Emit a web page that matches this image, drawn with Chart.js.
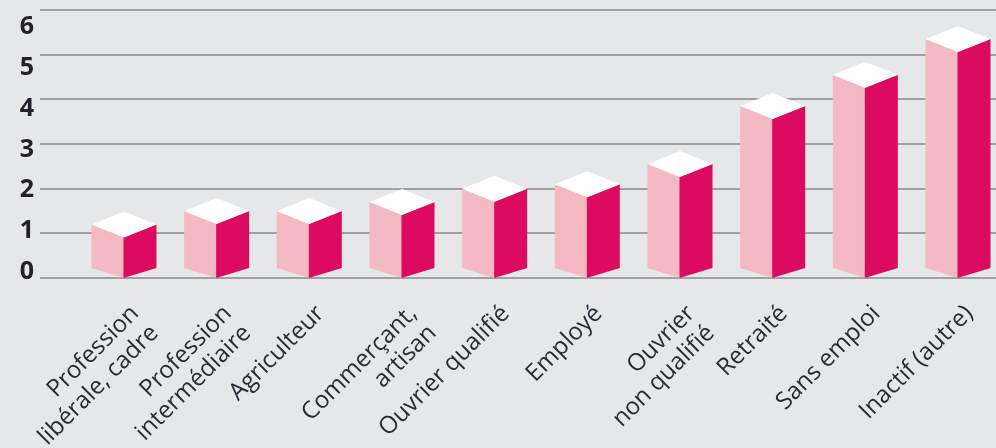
<!DOCTYPE html>
<html lang="fr">
<head>
<meta charset="utf-8">
<title>Catégories socioprofessionnelles</title>
<script src="https://cdn.jsdelivr.net/npm/chart.js@4.4.1/dist/chart.umd.min.js"></script>
<style>
  html, body { margin: 0; padding: 0; background: #e6e7e9; }
  #wrap { width: 996px; height: 448px; }
</style>
</head>
<body>
<div id="wrap"><canvas id="chart" width="996" height="448"></canvas></div>
<script>
const categories = [
  ["Profession", "libérale, cadre"],
  ["Profession", "intermédiaire"],
  "Agriculteur",
  ["Commerçant,", "artisan"],
  "Ouvrier qualifié",
  "Employé",
  ["Ouvrier", "non qualifié"],
  "Retraité",
  "Sans emploi",
  "Inactif (autre)"
];
const values = [1.2, 1.5, 1.5, 1.7, 2.0, 2.1, 2.55, 3.85, 4.55, 5.35];
const yTicks = [0, 1, 2, 3, 4, 5, 6];

// the labels sit a little to the right of each box
const labelShift = 0.12;

// draws each bar as a small 3D box (front edge = bar centre)
const boxes3d = {
  id: "boxes3d",
  afterDatasetsDraw(chart, args, opts) {
    const { ctx } = chart;
    const meta = chart.getDatasetMeta(0);
    meta.data.forEach(bar => {
      const { x, y, base, width } = bar.getProps(["x", "y", "base", "width"], true);
      const hw = width / 2;
      const d = opts.depth;
      const db = opts.baseDepth;
      const ft = y + d;      // front top corner
      const fb = base + 1;   // front bottom corner

      ctx.save();
      // left face
      ctx.fillStyle = opts.light;
      ctx.beginPath();
      ctx.moveTo(x - hw, ft - d);
      ctx.lineTo(x, ft);
      ctx.lineTo(x, fb);
      ctx.lineTo(x - hw, fb - db);
      ctx.closePath();
      ctx.fill();
      // right face
      ctx.fillStyle = opts.dark;
      ctx.beginPath();
      ctx.moveTo(x - 0.5, ft);
      ctx.lineTo(x + hw, ft - d);
      ctx.lineTo(x + hw, fb - db);
      ctx.lineTo(x - 0.5, fb);
      ctx.closePath();
      ctx.fill();
      // top
      ctx.fillStyle = opts.top;
      ctx.beginPath();
      ctx.moveTo(x - hw, ft - d);
      ctx.lineTo(x, ft - 2 * d);
      ctx.lineTo(x + hw, ft - d);
      ctx.lineTo(x, ft);
      ctx.closePath();
      ctx.fill();
      ctx.restore();
    });
  }
};

const zeroPadding = (s) => {
  s.paddingLeft = 0; s.paddingRight = 0;
  s.paddingTop = 0; s.paddingBottom = 0;
};

new Chart(document.getElementById("chart"), {
  type: "bar",
  data: {
    datasets: [{
      data: values.map((v, i) => ({ x: i, y: v })),
      backgroundColor: "rgba(0,0,0,0)",
      borderWidth: 0,
      barThickness: 65
    }]
  },
  plugins: [boxes3d],
  options: {
    responsive: false,
    animation: false,
    layout: { padding: { top: 10, left: 0, right: 0, bottom: 0 } },
    scales: {
      x: {
        type: "linear",
        position: "bottom",
        offset: false,
        min: -0.906,
        max: 9.41,
        grid: { display: false, offset: false },
        border: { display: false },
        afterBuildTicks: (s) => { s.ticks = categories.map((c, i) => ({ value: i + labelShift })); },
        afterFit: (s) => { s.height = 170; zeroPadding(s); },
        ticks: {
          autoSkip: false,
          minRotation: 45,
          maxRotation: 45,
          padding: 14,
          color: "#2a2a36",
          font: { family: "'Open Sans', sans-serif", size: 24, lineHeight: 1.15 },
          callback: (v, i) => categories[i]
        }
      },
      y: {
        position: "left",
        min: 0,
        max: 6,
        grid: { color: "#a0a0a2", lineWidth: 2, drawTicks: false },
        border: { display: false },
        ticks: { display: false },
        afterBuildTicks: (s) => { s.ticks = yTicks.map(v => ({ value: v })); },
        afterFit: (s) => { s.width = 0; zeroPadding(s); }
      },
      yLabels: {
        position: "left",
        min: -0.147,
        max: 6.416,
        grid: { display: false, drawTicks: false },
        border: { display: false },
        afterBuildTicks: (s) => { s.ticks = yTicks.map(v => ({ value: v })); },
        afterFit: (s) => { s.width = 40; zeroPadding(s); },
        ticks: {
          padding: 6,
          color: "#24212a",
          font: { family: "'Open Sans', sans-serif", size: 25, weight: "bold" },
          callback: (v) => String(v)
        }
      }
    },
    plugins: {
      legend: { display: false },
      tooltip: { enabled: false },
      boxes3d: { depth: 13, baseDepth: 10, light: "#f5b9c4", dark: "#dc0b5f", top: "#ffffff" }
    }
  }
});
</script>
</body>
</html>
